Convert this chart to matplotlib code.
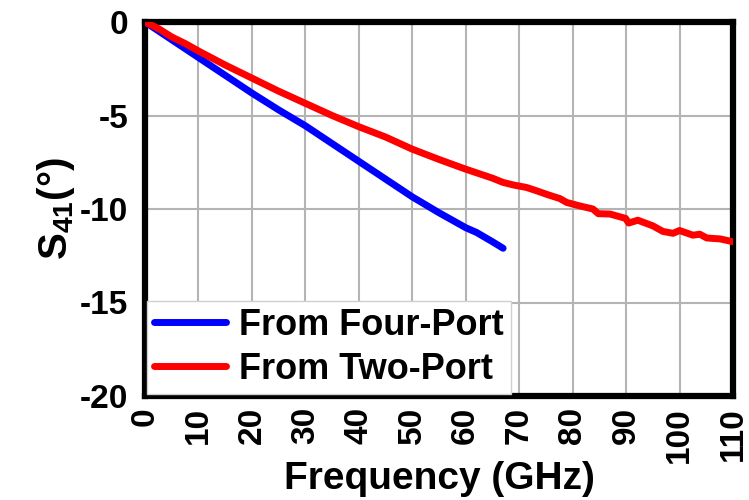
import matplotlib.pyplot as plt

plt.rcParams['font.family'] = 'Liberation Sans'
plt.rcParams['font.weight'] = 'bold'
plt.rcParams['axes.unicode_minus'] = False
plt.rcParams['mathtext.fontset'] = 'custom'
plt.rcParams['mathtext.rm'] = 'Liberation Sans:bold'
plt.rcParams['mathtext.bf'] = 'Liberation Sans:bold'

# data
four_port_f = [0, 5, 10, 15, 20, 25, 30, 35, 40, 45, 50, 55, 60, 62, 65, 67]
four_port_s41 = [0, -0.95, -1.9, -2.85, -3.8, -4.7, -5.55, -6.5, -7.45, -8.4, -9.35,
                 -10.2, -11.0, -11.25, -11.75, -12.1]

two_port_f = [0, 2.5, 5, 7.5, 10, 15, 20, 25, 30, 35, 40, 45, 50, 55, 60, 65, 67, 69,
              71.4, 73.3, 75.5, 77.6, 78.9, 81.4, 83.8, 84.8, 87, 89.9, 90.5, 92.2,
              95, 96.9, 98.8, 100, 102.5, 103.8, 105.1, 107.6, 110]
two_port_s41 = [0, -0.35, -0.8, -1.15, -1.55, -2.3, -3.0, -3.7, -4.35, -5.0, -5.6,
                -6.15, -6.8, -7.35, -7.87, -8.35, -8.58, -8.72, -8.85, -9.03, -9.25,
                -9.44, -9.65, -9.84, -10.0, -10.25, -10.27, -10.5, -10.75, -10.6,
                -10.9, -11.2, -11.3, -11.15, -11.4, -11.35, -11.55, -11.6, -11.75]

x_ticks = list(range(0, 111, 10))
y_ticks = [-20, -15, -10, -5, 0]

fig = plt.figure(figsize=(7.49, 5), dpi=100)
ax = fig.add_axes([0.1936, 0.208, 0.785, 0.748])

ax.plot(four_port_f, four_port_s41, color='#0000ff', lw=5, solid_capstyle='round',
        label='From Four-Port', zorder=3)
ax.plot(two_port_f, two_port_s41, color='#ff0000', lw=5, solid_capstyle='round',
        label='From Two-Port', zorder=3)

ax.set_xlim(0, 110)
ax.set_ylim(-20, 0)
ax.set_xticks(x_ticks)
ax.set_yticks(y_ticks)
ax.grid(True, color='#b4b4b4', lw=1.5)
ax.set_axisbelow(True)

for s in ax.spines.values():
    s.set_linewidth(4.5)
    s.set_color('black')

ax.tick_params(axis='both', length=0, labelsize=24)
ax.tick_params(axis='x', pad=8, labelrotation=90)
ax.tick_params(axis='y', pad=12)

ax.set_xlabel('Frequency (GHz)', fontsize=28, fontweight='bold', labelpad=-1)
ax.set_ylabel(r'S$_{41}$(°)', fontsize=29, fontweight='bold', labelpad=2)

leg = ax.legend(loc='lower left', fontsize=26, frameon=True, fancybox=False,
                edgecolor='#d0d0d0', framealpha=1, borderaxespad=0.05,
                handlelength=2.0, handletextpad=0.35, labelspacing=0.25,
                borderpad=0.2)
leg.get_frame().set_linewidth(1.0)
for line in leg.get_lines():
    line.set_linewidth(5)

fig.savefig('out.png', dpi=100)
